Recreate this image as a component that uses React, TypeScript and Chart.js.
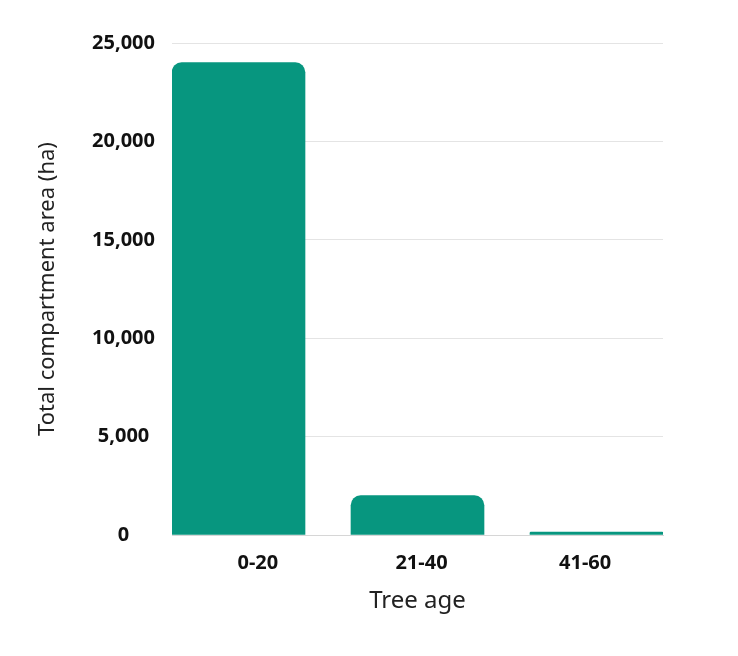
import React, { useEffect, useRef } from "react";
import { Chart, registerables } from "chart.js";

Chart.register(...registerables);

const categories = ["0-20", "21-40", "41-60"];
const areaValues = [24000, 2000, 150];
const yTicks = [0, 5000, 10000, 15000, 20000, 25000];

const BAR_COLOR = "#07967f";
const FONT = "'Noto Sans', 'Open Sans', sans-serif";

export default function App() {
  const ref = useRef<HTMLCanvasElement | null>(null);

  useEffect(() => {
    if (!ref.current) return;
    const chart = new Chart(ref.current, {
      type: "bar",
      data: {
        labels: categories,
        datasets: [
          {
            label: "Total compartment area (ha)",
            data: areaValues.map((v, i) => ({ x: i, y: v })),
            xAxisID: "xb",
            yAxisID: "y",
            backgroundColor: BAR_COLOR,
            borderRadius: { topLeft: 10, topRight: 10, bottomLeft: 0, bottomRight: 0 },
            borderSkipped: "start",
            barThickness: 133,
          } as any,
        ],
      },
      options: {
        responsive: false,
        animation: false,
        layout: { padding: { left: 0, right: 75, top: 43, bottom: 40 } },
        plugins: { legend: { display: false }, tooltip: { enabled: false } },
        scales: {
          x: {
            type: "category",
            position: "bottom",
            offset: true,
            grid: { display: false, drawTicks: false },
            border: { display: true, color: "#d6d6d6", width: 1 },
            afterFit: (scale: any) => {
              scale.height = 81;
            },
            ticks: {
              padding: 16,
              color: "#111",
              font: { family: FONT, size: 20, weight: "bold" },
              labelOffset: 4,
            },
            title: {
              display: true,
              text: "Tree age",
              color: "#222",
              font: { family: FONT, size: 24 },
              padding: { top: 12, bottom: 0 },
            },
          },
          xb: {
            type: "linear",
            display: false,
            min: -133 / 2 / 179,
            max: 2 + 133 / 2 / 179,
            offset: false,
          },
          y: {
            type: "linear",
            position: "left",
            min: 0,
            max: 25000,
            afterBuildTicks: (scale: any) => {
              scale.ticks = yTicks.map((v) => ({ value: v }));
            },
            afterFit: (scale: any) => {
              scale.width = 172;
            },
            grid: { color: "#e4e4e4", drawTicks: false, lineWidth: 1 },
            border: { display: false },
            ticks: {
              padding: 17,
              crossAlign: "center",
              color: "#111",
              font: { family: FONT, size: 20, weight: "bold" },
              callback: (v: any) => Number(v).toLocaleString("en-US"),
            },
            title: {
              display: true,
              text: "Total compartment area (ha)",
              color: "#222",
              font: { family: FONT, size: 22 },
              padding: { top: 35, bottom: 0 },
            },
          },
        },
      } as any,
    });
    return () => chart.destroy();
  }, []);

  return (
    <div style={{ position: "fixed", left: 0, top: 0, width: 738, height: 656, background: "#fff" }}>
      <canvas ref={ref} width={738} height={656} />
    </div>
  );
}
